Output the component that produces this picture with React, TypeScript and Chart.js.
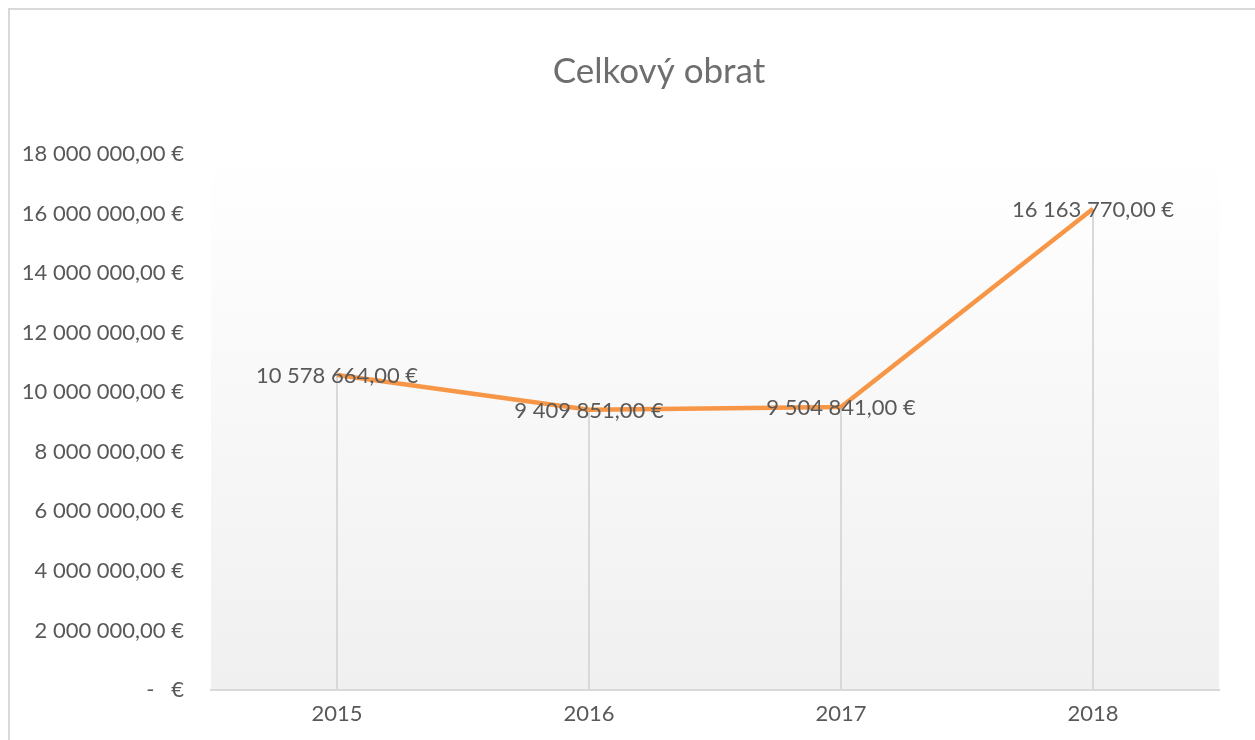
import React, { useEffect, useRef } from "react";
import { Chart, registerables } from "chart.js";

Chart.register(...registerables);

const categories = ["2015", "2016", "2017", "2018"];
const turnover = [10578664, 9409851, 9504841, 16163770];
const yMin = 0;
const yMax = 18000000;
const yStep = 2000000;
const chartTitle = "Celkový obrat";

const FONT = "Lato, 'Open Sans', sans-serif";
const TEXT = "#595959";

function fmtEuro(v: number): string {
  if (v === 0) return "-   €";
  const [i, d] = v.toFixed(2).split(".");
  const grouped = i.replace(/\B(?=(\d{3})+(?!\d))/g, " ");
  return `${grouped},${d} €`;
}

const bgPlugin = {
  id: "plotBg",
  beforeDraw(chart: any) {
    const { ctx, chartArea } = chart;
    if (!chartArea) return;
    const g = ctx.createLinearGradient(0, chartArea.top, 0, chartArea.bottom);
    g.addColorStop(0, "#ffffff");
    g.addColorStop(1, "#f0f0f0");
    ctx.save();
    ctx.fillStyle = g;
    ctx.fillRect(chartArea.left, chartArea.top, chartArea.right - chartArea.left, chartArea.bottom - chartArea.top);
    ctx.restore();
  },
};

const titlePlugin = {
  id: "chartTitleText",
  afterDraw(chart: any) {
    const { ctx, width } = chart;
    ctx.save();
    ctx.fillStyle = "#6e6e6e";
    ctx.font = `35px ${FONT}`;
    ctx.textAlign = "center";
    ctx.textBaseline = "middle";
    ctx.fillText(chartTitle, width / 2, 62);
    ctx.restore();
  },
};

const dropLinePlugin = {
  id: "dropLines",
  beforeDatasetsDraw(chart: any) {
    const { ctx, chartArea } = chart;
    const meta = chart.getDatasetMeta(0);
    ctx.save();
    ctx.strokeStyle = "#d9d9d9";
    ctx.lineWidth = 2;
    meta.data.forEach((pt: any) => {
      ctx.beginPath();
      ctx.moveTo(pt.x, pt.y);
      ctx.lineTo(pt.x, chartArea.bottom);
      ctx.stroke();
    });
    ctx.restore();
  },
};

const labelPlugin = {
  id: "dataLabels",
  afterDatasetsDraw(chart: any) {
    const { ctx } = chart;
    const meta = chart.getDatasetMeta(0);
    const data = chart.data.datasets[0].data as number[];
    ctx.save();
    ctx.fillStyle = TEXT;
    ctx.font = `22px ${FONT}`;
    ctx.textAlign = "center";
    ctx.textBaseline = "middle";
    meta.data.forEach((pt: any, i: number) => {
      ctx.fillText(fmtEuro(data[i]), pt.x, pt.y + 1);
    });
    ctx.restore();
  },
};

export default function App() {
  const ref = useRef<HTMLCanvasElement | null>(null);

  useEffect(() => {
    if (!ref.current) return;
    const chart = new Chart(ref.current, {
      type: "line",
      data: {
        labels: categories,
        datasets: [
          {
            data: turnover,
            borderColor: "#F79646",
            borderWidth: 4.5,
            pointRadius: 0,
            tension: 0,
            fill: false,
          },
        ],
      },
      options: {
        animation: false,
        responsive: false,
        maintainAspectRatio: false,
        layout: { padding: { left: 0, right: 89, top: 144, bottom: 0 } },
        plugins: {
          legend: { display: false },
          tooltip: { enabled: false },
          title: { display: false },
        },
        scales: {
          x: {
            offset: true,
            grid: { display: true, drawOnChartArea: false, drawTicks: false },
            border: { display: true, color: "#d9d9d9", width: 2 },
            ticks: { color: TEXT, font: { family: FONT, size: 22 }, padding: 11 },
            afterFit(scale: any) {
              scale.height = 80;
            },
          },
          y: {
            min: yMin,
            max: yMax,
            grid: { display: false },
            border: { display: false },
            ticks: {
              stepSize: yStep,
              color: TEXT,
              font: { family: FONT, size: 22 },
              padding: 19,
              callback: (v: any) => fmtEuro(Number(v)),
            },
            afterFit(scale: any) {
              scale.width = 201;
            },
          },
        },
      },
      plugins: [bgPlugin, dropLinePlugin, labelPlugin, titlePlugin],
    });
    return () => chart.destroy();
  }, []);

  return (
    <div style={{ position: "fixed", inset: 0, overflow: "hidden", background: "#fff" }}>
      <div
        style={{
          position: "absolute",
          left: 8,
          top: 8,
          width: 1298,
          height: 760,
          border: "2px solid #d9d9d9",
          background: "#fff",
        }}
      >
        <canvas ref={ref} width={1298} height={760} style={{ display: "block", width: 1298, height: 760 }} />
      </div>
    </div>
  );
}
